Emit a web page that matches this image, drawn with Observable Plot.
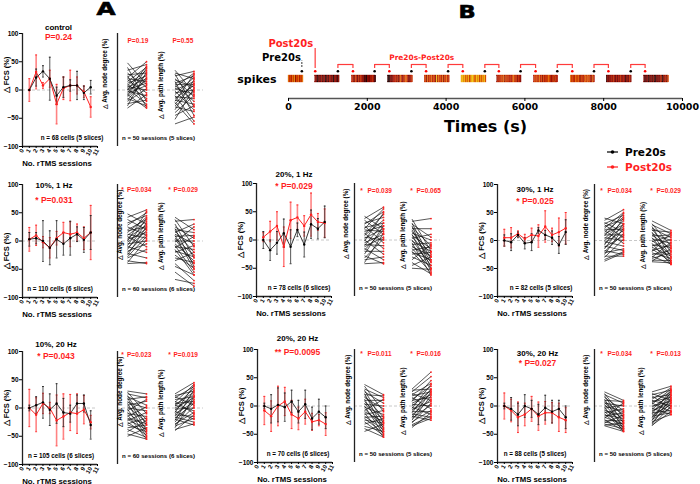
<!DOCTYPE html>
<html><head><meta charset="utf-8">
<script src="https://cdn.jsdelivr.net/npm/d3@7"></script>
<script src="https://cdn.jsdelivr.net/npm/@observablehq/plot@0.6"></script>
<style>
body{margin:0;background:#fff;}
#fig{position:relative;width:700px;height:484px;overflow:hidden;background:#fff;font-family:'Liberation Sans',Arial,sans-serif;}
.lbl{position:absolute;white-space:nowrap;font-weight:bold;line-height:1;}
</style></head><body><div id="fig"></div>
<script>
// ---------------- DATA ----------------
const sessions = [1,2,3,4,5,6,7,8,9,10];
const sessionTicks = [0,1,2,3,4,5,6,7,8,9,10,11];

// control
const ctrlPre   = [0,22,33,20,-10,5,8,8,-5,5];
const ctrlPreE  = [0,15,10,38,15,18,10,25,12,12];
const ctrlPost  = [0,32,8,20,-25,3,8,8,-3,-30];
const ctrlPostE = [20,30,5,15,35,20,27,15,10,18];
const ctrlDegPre   = [48,40,35,30,27,25,22,20,18,15,12,10,8,6,5,3,1,0,-2,-4,-6,-8,-10,-12,-15,-18,-20,-24,-28,-32];
const ctrlDegPost  = [10,-20,45,5,30,-30,50,15,-5,40,25,-15,35,0,20,-25,12,42,-10,28,8,-32,38,18,-28,22,2,-18,32,-8];
const ctrlPathPre  = [35,30,28,25,20,18,15,12,10,8,5,3,0,-2,-5,-8,-10,-12,-15,-18,-20,-22,-25,-28,-30,-35,-40,-45,-52,-60];
const ctrlPathPost = [-5,20,-30,33,-12,5,-45,25,10,-20,30,-8,15,-35,0,22,-55,-15,8,-25,28,-60,12,-2,-38,18,-10,-28,3,-48];

// 10%, 1 Hz
const a1Pre   = [3,5,0,-12,3,-5,5,12,2,15];
const a1PreE  = [12,10,36,30,33,20,30,13,22,30];
const a1Post  = [3,10,-2,-12,5,15,12,15,5,15];
const a1PostE = [21,18,10,18,12,18,22,15,20,48];
const a1DegPre   = [48,42,38,32,28,25,20,18,15,12,10,8,5,3,0,-2,-5,-8,-10,-12,-15,-18,-20,-22,-25,-28,-30,-35,-38,-40];
const a1DegPost  = [30,55,20,45,50,10,38,25,42,5,35,-10,28,15,52,22,0,40,-20,18,32,-5,12,-30,25,8,-15,-40,2,-38];
const a1PathPre  = [42,38,35,30,25,22,20,18,15,12,10,8,5,3,0,-2,-5,-8,-10,-12,-15,-18,-20,-25,-30,-35,-40,-45,-55,-68];
const a1PathPost = [20,-10,38,-30,5,-45,15,-20,30,-5,-50,10,-25,-40,0,25,-35,-55,-15,8,-60,-28,-8,-48,-38,-20,-70,-60,-80,-75];

// 10%, 20 Hz
const a2Pre   = [0,5,10,-3,8,-8,-10,8,8,-30];
const a2PreE  = [5,15,28,28,35,25,15,15,15,25];
const a2Post  = [0,-12,8,0,-22,-15,-8,-10,-3,-25];
const a2PostE = [33,30,18,10,45,40,32,35,25,12];
const a2DegPre   = [30,28,25,22,20,18,15,12,10,8,5,3,0,-2,-5,-8,-10,-12,-15,-18,-20,-22,-25,-28,-30,-35,-38,-42,-46,-50];
const a2DegPost  = [25,-10,18,-30,5,-40,20,-20,0,-45,12,-25,-5,-50,15,-35,-15,-55,2,-28,-38,-8,-48,-18,-42,-30,-52,-22,-55,-35];
const a2PathPre  = [25,22,20,18,15,12,10,8,6,5,3,0,-2,-4,-6,-8,-10,-12,-14,-16,-18,-20,-22,-25,-28,-30,-32,-35,-38,-40];
const a2PathPost = [45,30,5,38,20,-10,42,12,28,-5,35,18,0,25,-20,40,10,-15,22,-25,8,-30,32,15,-8,2,-18,20,-28,-12];

// 20%, 1 Hz
const b1Pre   = [0,-18,-5,12,-12,18,-8,28,20,32];
const b1PreE  = [15,18,20,25,30,12,22,25,18,28];
const b1Post  = [5,15,25,-12,35,40,25,45,32,30];
const b1PostE = [8,18,25,35,32,22,18,38,15,25];
const b1DegPre   = [42,38,35,30,28,25,22,20,18,15,12,10,8,5,3,0,-2,-5,-8,-10,-12,-15,-18,-20,-25,-28,-32,-35,-40,-42];
const b1DegPost  = [20,58,10,40,50,-5,30,55,15,25,-15,45,35,0,20,-25,48,10,-10,30,5,-35,18,-20,25,-42,2,-30,12,-40];
const b1PathPre  = [37,33,30,28,25,22,20,18,15,12,10,8,5,3,0,-2,-5,-8,-10,-12,-15,-18,-20,-22,-25,-30,-35,-40,-45,-50];
const b1PathPost = [-20,38,-35,5,-50,-10,20,-40,-25,0,-55,-15,-30,10,-45,-20,-62,-5,-38,-28,-50,-12,-58,-35,-22,-45,-8,-60,-30,-52];

// 20%, 20 Hz
const b2Pre   = [0,-5,2,-2,8,-10,3,-22,-10,-20];
const b2PreE  = [5,25,30,25,20,20,25,20,22,20];
const b2Post  = [-8,-18,0,8,-15,-22,-10,-28,-25,-32];
const b2PostE = [25,27,35,25,25,20,22,15,10,20];
const b2DegPre   = [38,35,30,28,25,22,20,18,15,12,10,8,5,3,0,-2,-5,-8,-10,-12,-15,-18,-20,-22,-25,-28,-32,-36,-40,-45];
const b2DegPost  = [20,-10,15,-30,5,-40,18,-20,-5,-45,10,-25,-35,0,-50,-15,-38,12,-28,-55,-8,-42,-18,-48,-30,-52,-22,-45,-55,-32];
const b2PathPre  = [30,28,25,22,20,18,15,12,10,8,5,3,0,-2,-4,-6,-8,-10,-12,-14,-16,-18,-20,-22,-25,-28,-30,-33,-35,-38];
const b2PathPost = [60,30,52,10,40,25,-5,35,15,45,20,0,28,-15,38,8,22,-10,30,-20,12,-25,25,2,18,-8,5,-18,-22,-12];

// 30%, 1 Hz
const c1Pre   = [0,-3,10,-5,-3,18,10,5,-8,15];
const c1PreE  = [10,15,5,10,15,5,8,12,15,22];
const c1Post  = [5,5,12,3,10,8,25,10,15,22];
const c1PostE = [15,18,5,8,12,20,28,12,25,28];
const c1DegPre   = [40,36,32,30,28,25,22,20,18,15,12,10,8,5,3,0,-2,-5,-8,-10,-12,-15,-18,-20,-22,-25,-28,-30,-34,-37];
const c1DegPost  = [30,55,15,45,5,38,50,20,-5,42,28,10,48,0,35,25,-10,18,40,-18,8,30,-25,12,-15,22,-28,2,-20,-22];
const c1PathPre  = [35,30,28,25,22,20,18,15,12,10,8,5,3,0,-2,-5,-8,-10,-12,-15,-18,-20,-22,-25,-28,-30,-32,-35,-37,-38];
const c1PathPost = [18,-10,12,-30,5,-20,15,-40,0,-15,10,-35,-5,-25,8,-43,-12,2,-28,-38,-8,14,-32,-18,-42,-3,-22,-36,-14,-40];

// 30%, 20 Hz
const c2Pre   = [0,-5,-15,0,-5,-15,-3,-10,-5,-20];
const c2PreE  = [5,20,20,20,15,18,22,20,15,20];
const c2Post  = [0,-8,-20,-15,-5,-18,-12,-12,-20,-25];
const c2PostE = [23,20,27,20,22,25,20,18,25,22];
const c2DegPre   = [25,22,20,18,15,12,10,8,6,5,3,0,-2,-4,-6,-8,-10,-12,-14,-16,-18,-20,-22,-24,-26,-28,-30,-32,-34,-35];
const c2DegPost  = [10,-20,5,-30,-8,-40,8,-15,-25,0,-35,-10,-45,2,-28,-18,-38,-5,-42,-22,-12,-32,6,-44,-26,-36,-16,-40,-30,-45];
const c2PathPre  = [25,22,20,18,15,12,10,8,6,5,3,0,-2,-4,-6,-8,-10,-12,-14,-16,-18,-20,-22,-24,-26,-28,-30,-32,-34,-35];
const c2PathPost = [35,10,28,-5,20,32,0,15,25,-10,30,8,18,-15,22,5,12,-8,28,2,-12,18,10,-3,25,-15,6,14,-10,0];

// text per panel
const panelTitles = ["control","10%, 1 Hz","10%, 20 Hz","20%, 1 Hz","20%, 20 Hz","30%, 1 Hz","30%, 20 Hz"];
const panelP      = ["P=0.24","* P=0.031","* P=0.043","* P=0.029","** P=0.0095","* P=0.025","* P=0.027"];
const panelN      = ["n = 68 cells (5 slices)","n = 110 cells (6 slices)","n = 105 cells (6 slices)","n = 78 cells (6 slices)","n = 70 cells (6 slices)","n = 82 cells (5 slices)","n = 88 cells (5 slices)"];
const degreeP     = ["P=0.19","P=0.034","P=0.023","P=0.039","P=0.011","P=0.034","P=0.034"];
const pathP       = ["P=0.55","P=0.029","P=0.019","P=0.065","P=0.016","P=0.029","P=0.013"];
const slopeStar   = [false,true,true,true,true,true,true];
const slopeN      = ["n = 50 sessions (5 slices)","n = 60 sessions (6 slices)","n = 60 sessions (6 slices)","n = 50 sessions (5 slices)","n = 50 sessions (5 slices)","n = 50 sessions (5 slices)","n = 50 sessions (5 slices)"];

// spike raster (B)
const timeTicks = [0,2000,4000,6000,8000,10000];
const segStart = [0,678,1610,2525,3458,4390,5297,6229,7161,8076,9025];
const segEnd   = [381,1297,2229,3161,4093,5025,5915,6847,7780,8712,9661];
const segIntensity = [
  "756475836574657",
  "3320322413302314323033213",
  "4533642535433120332435421",
  "1013234453525743557642345",
  "5637465746539475647365745",
  "8979686957898769795868796",
  "3545565736555454675553543",
  "4656557463645557653463644",
  "7565476575365547657563474",
  "1323343532424353343133253",
  "3122303231401323253043526"
];
const preTimes  = [339,1254,2186,3119,4051,4983,5890,6822,7754,8686];
const postTimes = [678,1636,2559,3492,4424,5339,6271,7203,8119,9051];

// ---------------- LAYOUT ----------------
const panelData = [
  [ctrlPre,ctrlPreE,ctrlPost,ctrlPostE,ctrlDegPre,ctrlDegPost,ctrlPathPre,ctrlPathPost],
  [a1Pre,a1PreE,a1Post,a1PostE,a1DegPre,a1DegPost,a1PathPre,a1PathPost],
  [a2Pre,a2PreE,a2Post,a2PostE,a2DegPre,a2DegPost,a2PathPre,a2PathPost],
  [b1Pre,b1PreE,b1Post,b1PostE,b1DegPre,b1DegPost,b1PathPre,b1PathPost],
  [b2Pre,b2PreE,b2Post,b2PostE,b2DegPre,b2DegPost,b2PathPre,b2PathPost],
  [c1Pre,c1PreE,c1Post,c1PostE,c1DegPre,c1DegPost,c1PathPre,c1PathPost],
  [c2Pre,c2PreE,c2Post,c2PostE,c2DegPre,c2DegPost,c2PathPre,c2PathPost]
];
const layout = [
  {ax:22, top:33, bottom:146, sx:117, tDy:-6, pDy:4, tDx:-1.5, nDx:12, degDx:-13, pathDx:43, spDy:7, st:[5,10,52,55], fDy:-15},
  {ax:22, top:184, bottom:297, sx:117, tDy:1, pDy:16, tDx:-6, nDx:0, degDx:2, pathDx:43, spDy:5, st:[5,9.5,52,56], fDy:10},
  {ax:22, top:351, bottom:464, sx:117, tDy:-7, pDy:5, tDx:-4, nDx:1, degDx:2, pathDx:43, spDy:3, st:[5,9.5,52,56], fDy:0},
  {ax:256, top:183, bottom:296, sx:354, tDy:-9, pDy:3, tDx:0, nDx:5, degDx:-9, pathDx:48, spDy:7, st:[7,13,57,62], fDy:0},
  {ax:257, top:349, bottom:462, sx:354, tDy:-11, pDy:3, tDx:2.5, nDx:3, degDx:-7, pathDx:48, spDy:4, st:[7,13,57,62], fDy:0},
  {ax:497, top:184, bottom:296, sx:594, tDy:5, pDy:17, tDx:0, nDx:6, degDx:-9, pathDx:48, spDy:6, st:[7,13,57,62], fDy:0},
  {ax:497, top:349, bottom:462, sx:594, tDy:4, pDy:14, tDx:2.5, nDx:0, degDx:-9, pathDx:46, spDy:4, st:[7,13,57,62], fDy:0}
];

const RED = "#ff1f1f";
const FONT = "'Liberation Sans', Arial, sans-serif";
const DJ = "'DejaVu Sans', Verdana, sans-serif";
const MID = {textAnchor:"middle", lineAnchor:"middle"};
const fig = document.getElementById("fig");
function baseStyle(left, top) {
  return {position:"absolute", left: left+"px", top: top+"px", background:"transparent",
          overflow:"visible", maxWidth:"none", fontFamily: FONT, fontWeight:"bold", color:"#000"};
}

function fcsPlot(k) {
  const [pre, preE, post, postE] = panelData[k];
  const L = layout[k];
  const ML=40, MR=10, MT=24, MB=30, W=75, H=L.bottom-L.top;
  const preRows  = sessions.map((s,i)=>({s, v:pre[i],  e:preE[i]}));
  const postRows = sessions.map((s,i)=>({s, v:post[i], e:postE[i]}));
  const cap = 0.14;
  const caps = rows => rows.flatMap(d=>[d.v-d.e, d.v+d.e].map(y=>({s:d.s, y})));
  const svg = Plot.plot({
    width: ML+W+MR, height: MT+H+MB, marginLeft:ML, marginRight:MR, marginTop:MT, marginBottom:MB,
    style: baseStyle(L.ax-ML, L.top-MT),
    x: {domain:[0,11]},
    y: {domain:[-100,100]},
    marks: [
      Plot.ruleY([0], {stroke:"#c8c8c8", strokeDasharray:"3,2", strokeWidth:1}),
      Plot.ruleX(postRows, {x:"s", y1:d=>d.v-d.e, y2:d=>d.v+d.e, stroke:"#ff5a5a", strokeOpacity:0.75, strokeWidth:1.6}),
      Plot.link(caps(postRows), {x1:d=>d.s-cap, x2:d=>d.s+cap, y1:"y", y2:"y", stroke:"#ff3030", strokeWidth:1}),
      Plot.ruleX(preRows, {x:"s", y1:d=>d.v-d.e, y2:d=>d.v+d.e, stroke:"#333", strokeOpacity:0.75, strokeWidth:1.1}),
      Plot.link(caps(preRows), {x1:d=>d.s-cap, x2:d=>d.s+cap, y1:"y", y2:"y", stroke:"#222", strokeWidth:0.9}),
      Plot.line(postRows, {x:"s", y:"v", stroke:RED, strokeWidth:1}),
      Plot.line(preRows, {x:"s", y:"v", stroke:"#222", strokeWidth:0.9}),
      Plot.dot(postRows, {x:"s", y:"v", r:1.2, fill:RED}),
      Plot.dot(preRows, {x:"s", y:"v", r:1.2, fill:"#000"}),
      Plot.ruleX([0], {stroke:"#222", strokeWidth:1.3}),
      Plot.ruleY([-100], {stroke:"#222", strokeWidth:1.3}),
      Plot.axisY({ticks:[-100,-50,0,50,100], tickSize:3, tickPadding:1, fontSize:6.5, label:null}),
      Plot.axisX({ticks:sessionTicks, tickSize:2, tickPadding:1, tickRotate:-60, fontSize:6, label:null}),
      Plot.text(["\u25B3 FCS (%)"], {...MID, text:d=>d, frameAnchor:"left", dx:-16, dy:L.fDy, rotate:-90, fontSize:7.5}),
      Plot.text([panelTitles[k]], {...MID, text:d=>d, frameAnchor:"top", dx:L.tDx, dy:L.tDy, fontSize:8}),
      Plot.text([panelP[k]], {...MID, text:d=>d, frameAnchor:"top", dx:L.tDx, dy:L.pDy, fontSize:8.5, fill:RED}),
      Plot.text([panelN[k]], {...MID, text:d=>d, frameAnchor:"bottom", dx:L.nDx, dy:-8.5, fontSize:6.3}),
      Plot.text(["No. rTMS sessions"], {...MID, text:d=>d, frameAnchor:"bottom", dx:-3, dy:16.5, fontSize:7.8})
    ]
  });
  fig.appendChild(svg);
}

function slopePlot(k) {
  const [, , , , degPre, degPost, pathPre, pathPost] = panelData[k];
  const L = layout[k];
  const ML=22, MR=14, MT=24, MB=20, W=86, H=L.bottom-L.top;
  const xStart = 0.474;           // axis position in column units
  const colDegPre = 1, colDegPost = 2, colPathPre = 3.5, colPathPost = 4.5;
  const deg  = degPre.map((a,i)=>({a, b:degPost[i]}));
  const path = pathPre.map((a,i)=>({a, b:pathPost[i]}));
  const st = L.st;
  const pMarks = [];
  if (slopeStar[k]) {
    pMarks.push(Plot.text(["*"], {...MID, text:d=>d, frameAnchor:"top-left", dx:st[0], dy:L.spDy, fontSize:6.5, fill:RED}));
    pMarks.push(Plot.text(["*"], {...MID, text:d=>d, frameAnchor:"top-left", dx:st[2], dy:L.spDy, fontSize:6.5, fill:RED}));
  }
  pMarks.push(Plot.text([degreeP[k]], {text:d=>d, frameAnchor:"top-left", textAnchor:"start", lineAnchor:"middle", dx:st[1], dy:L.spDy, fontSize:6.5, fill:RED}));
  pMarks.push(Plot.text([pathP[k]], {text:d=>d, frameAnchor:"top-left", textAnchor:"start", lineAnchor:"middle", dx:st[3], dy:L.spDy, fontSize:6.5, fill:RED}));
  const svg = Plot.plot({
    width: ML+W+MR, height: MT+H+MB, marginLeft:ML, marginRight:MR, marginTop:MT, marginBottom:MB,
    style: baseStyle(L.sx-ML, L.top-MT),
    x: {domain:[xStart, 5], axis:null},
    y: {domain:[-100,100], axis:null},
    marks: [
      Plot.ruleY([0], {stroke:"#c8c8c8", strokeDasharray:"3,2", strokeWidth:1}),
      Plot.ruleX([xStart], {stroke:"#222", strokeWidth:1.3}),
      Plot.link(deg, {x1:()=>colDegPre, x2:()=>colDegPost, y1:"a", y2:"b", stroke:"#111", strokeWidth:0.7}),
      Plot.link(path, {x1:()=>colPathPre, x2:()=>colPathPost, y1:"a", y2:"b", stroke:"#111", strokeWidth:0.7}),
      Plot.dot(deg, {x:()=>colDegPost, y:"b", r:0.9, fill:RED}),
      Plot.dot(path, {x:()=>colPathPost, y:"b", r:0.9, fill:RED}),
      Plot.text(["\u25B3 Avg. node degree (%)"], {...MID, text:d=>d, frameAnchor:"left", dx:L.degDx, dy:-16, rotate:-90, fontSize:6.3}),
      Plot.text(["\u25B3 Avg. path length (%)"], {...MID, text:d=>d, frameAnchor:"left", dx:L.pathDx, dy:-5, rotate:-90, fontSize:6.3}),
      Plot.text([slopeN[k]], {...MID, text:d=>d, frameAnchor:"bottom-left", dx:41, dy:-8.5, fontSize:6.1}),
      ...pMarks
    ]
  });
  fig.appendChild(svg);
}

for (let k=0; k<7; k++) { fcsPlot(k); slopePlot(k); }

// ---------- spike raster ----------
(function(){
  const cells = segIntensity.flatMap((str,k)=>{
    const n = str.length, w = (segEnd[k]-segStart[k])/n;
    return [...str].map((c,j)=>({x1:segStart[k]+j*w, x2:segStart[k]+(j+1)*w, v:+c}));
  });
  const brackets = preTimes.slice(1).map((t,i)=>({a:t, b:postTimes[i+1]}));
  const ML=10, MR=20, MT=0, MB=42;
  const lv = {barLo:16, barHi:23, dot:27.3, brLo:30, brHi:34, postHi:50, preLo:31, preHi:37.5};
  const svg = Plot.plot({
    width: ML+394+MR, height: 100, marginLeft:ML, marginRight:MR, marginTop:MT, marginBottom:MB,
    style: baseStyle(288-ML, 40),
    x: {domain:[0,10000]},
    y: {domain:[0,58], axis:null},
    color: {type:"linear", domain:[0,2,4,6,7.5,9], range:["#120000","#6a0000","#b01500","#d84a05","#ea8c12","#f2d21a"]},
    marks: [
      Plot.rect(cells, {x1:"x1", x2:"x2", y1:lv.barLo, y2:lv.barHi, fill:"v", stroke:"v", strokeWidth:0.3}),
      Plot.link(brackets, {x1:"a", x2:"b", y1:lv.brHi, y2:lv.brHi, stroke:"#ff3b3b", strokeWidth:1.2}),
      Plot.ruleX(brackets, {x:"a", y1:lv.brLo, y2:lv.brHi, stroke:"#ff3b3b", strokeWidth:1.2}),
      Plot.ruleX(brackets, {x:"b", y1:lv.brLo, y2:lv.brHi, stroke:"#ff3b3b", strokeWidth:1.2}),
      Plot.ruleX([postTimes[0]], {x:d=>d, y1:lv.brLo, y2:lv.postHi, stroke:"#ff6a6a", strokeWidth:1.6}),
      Plot.ruleX([preTimes[0]], {x:d=>d, y1:lv.preLo, y2:lv.preHi, stroke:"#000", strokeWidth:0.8, strokeDasharray:"2,1"}),
      Plot.dot(preTimes, {x:d=>d, y:lv.dot, r:1.3, fill:"#000"}),
      Plot.dot(postTimes, {x:d=>d, y:lv.dot, r:1.3, fill:"#ff0000"}),
      Plot.text([postTimes[0]], {x:d=>d, y:54.5, text:()=>"Post20s", textAnchor:"end", dx:-2, fontSize:10, fontFamily:DJ, fill:RED}),
      Plot.text([preTimes[0]], {x:d=>d, y:40.5, text:()=>"Pre20s", textAnchor:"end", dx:-1, fontSize:10, fontFamily:DJ, fill:"#000"}),
      Plot.text([brackets[2]], {x:d=>(d.a+d.b)/2, y:41, text:()=>"Pre20s-Post20s", dx:3, fontSize:7.4, fontFamily:DJ, fill:RED}),
      Plot.text([segStart[0]], {x:d=>d, y:(lv.barLo+lv.barHi)/2, text:()=>"spikes", textAnchor:"end", dx:-12, fontSize:11, fontFamily:DJ}),
      Plot.ruleY([0], {stroke:"#555", strokeWidth:1.5}),
      Plot.axisX({ticks:timeTicks, tickFormat:d3.format("d"), tickSize:3, tickPadding:2, fontSize:9.5, fontFamily:DJ, label:null}),
      Plot.text(["Times (s)"], {...MID, text:d=>d, frameAnchor:"bottom", dy:28, fontSize:16, fontFamily:DJ})
    ]
  });
  fig.appendChild(svg);
})();

// ---------- letters & legend ----------
function addLabel(text, css) {
  const d = document.createElement("div");
  d.className = "lbl"; d.textContent = text;
  Object.assign(d.style, css);
  fig.appendChild(d);
  return d;
}
addLabel("A", {left:"85.5px", top:"1px", width:"40px", textAlign:"center", fontFamily:DJ, fontSize:"17px", transform:"scaleX(1.45)", webkitTextStroke:"0.6px #000"});
addLabel("B", {left:"446.5px", top:"3px", width:"40px", textAlign:"center", fontFamily:DJ, fontSize:"18px", transform:"scaleX(1.25)", webkitTextStroke:"0.6px #000"});

const legendNames = ["Pre20s","Post20s"];
const legendColors = ["#000", RED];
legendNames.forEach((name,i)=>{
  const y = 152 + i*15;
  const s = document.createElementNS("http://www.w3.org/2000/svg","svg");
  s.setAttribute("width","16"); s.setAttribute("height","8");
  s.style.position="absolute"; s.style.left="605px"; s.style.top=(y-4)+"px";
  s.innerHTML = `<line x1="2" x2="13" y1="4" y2="4" stroke="${legendColors[i]}" stroke-width="1.2"/><circle cx="7.5" cy="4" r="1.8" fill="${legendColors[i]}"/>`;
  fig.appendChild(s);
  addLabel(name, {left:"625px", top:(y-5)+"px", fontFamily:DJ, fontSize:"10.5px", color:legendColors[i]});
});
</script></body></html>
